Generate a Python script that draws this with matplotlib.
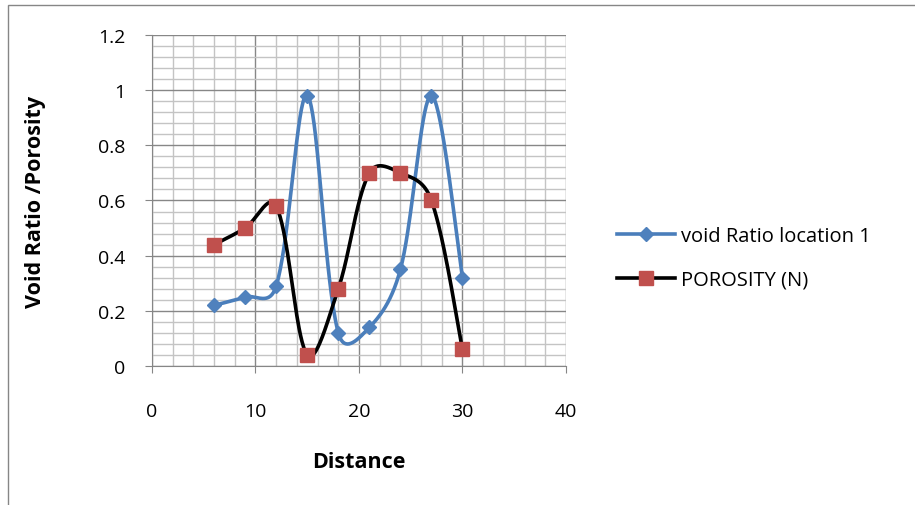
import numpy as np
import matplotlib.pyplot as plt
from matplotlib.patches import Rectangle
from matplotlib.ticker import MultipleLocator

# data
distance = [6, 9, 12, 15, 18, 21, 24, 27, 30]
void_ratio = [0.22, 0.25, 0.29, 0.98, 0.12, 0.14, 0.35, 0.98, 0.32]
porosity = [0.44, 0.50, 0.58, 0.04, 0.28, 0.70, 0.70, 0.60, 0.06]

# pixel scale of the plot area, used to shape the smoothing like Excel does
SX, SY = 414 / 40, 331 / 1.2


def smooth(xs, ys, n=40):
    # Excel-like smoothed line: bezier segments, tangents partly weighted by segment length
    p = np.column_stack([np.asarray(xs) * SX, np.asarray(ys) * SY]).astype(float)
    pts = np.vstack([p[0], p, p[-1]])
    out = []
    t = np.linspace(0, 1, n)[:, None]
    for i in range(1, len(pts) - 2):
        p0, p1, p2, p3 = pts[i - 1], pts[i], pts[i + 1], pts[i + 2]
        d01 = np.hypot(*(p1 - p0))
        d12 = np.hypot(*(p2 - p1))
        d23 = np.hypot(*(p3 - p2))
        f1 = 0.5 / 6 + 0.5 * (d12 / (d01 + d12) / 3 if d01 > 0 else 1 / 6)
        f2 = 0.5 / 6 + 0.5 * (d12 / (d12 + d23) / 3 if d23 > 0 else 1 / 6)
        c1 = p1 + (p2 - p0) * f1
        c2 = p2 - (p3 - p1) * f2
        seg = ((1 - t) ** 3) * p1 + 3 * ((1 - t) ** 2) * t * c1 + 3 * (1 - t) * t ** 2 * c2 + t ** 3 * p2
        out.append(seg)
    seg = np.vstack(out)
    return seg[:, 0] / SX, seg[:, 1] / SY


plt.rcParams['font.family'] = ['Open Sans', 'DejaVu Sans']

fig = plt.figure(figsize=(9.15, 5.06), dpi=100)
ax = fig.add_axes([152 / 915, 1 - 367 / 506, 414 / 915, 331 / 506])

# outer chart frame
fig.patches.append(Rectangle((8 / 915, -0.1), 1.2, 1 - 6 / 506 + 0.1, transform=fig.transFigure,
                             fill=False, edgecolor='#868686', lw=1))

blue = '#4A7EBB'
red = '#C0504D'

sx, sy = smooth(distance, void_ratio)
ax.plot(sx, sy, color=blue, lw=2.6, zorder=3)
ax.plot(distance, void_ratio, ls='none', marker='D', ms=7.5, color='#4F81BD', zorder=4)

px, py = smooth(distance, porosity)
ax.plot(px, py, color='black', lw=2.6, zorder=3)
ax.plot(distance, porosity, ls='none', marker='s', ms=10.5, color=red, zorder=5)

ax.set_xlim(0, 40)
ax.set_ylim(0, 1.2)
ax.xaxis.set_major_locator(MultipleLocator(10))
ax.xaxis.set_minor_locator(MultipleLocator(2))
ax.yaxis.set_minor_locator(MultipleLocator(0.04))
ax.set_yticks([0, 0.2, 0.4, 0.6, 0.8, 1.0, 1.2])
ax.set_yticklabels(['0', '0.2', '0.4', '0.6', '0.8', '1', '1.2'])
ax.grid(which='major', color='#878787', lw=1)
ax.grid(which='minor', color='#C4C4C4', lw=1)
ax.set_axisbelow(True)
for s in ['top', 'right']:
    ax.spines[s].set_visible(False)
for s in ['left', 'bottom']:
    ax.spines[s].set_color('#868686')
ax.tick_params(which='minor', length=0)
ax.tick_params(axis='x', which='major', length=5, color='#868686', pad=21, labelsize=14)
ax.tick_params(axis='y', which='major', length=5, color='#868686', pad=14, labelsize=14)

ax.set_xlabel('Distance', fontweight='bold', fontsize=15.5)
ax.set_ylabel('Void Ratio /Porosity', fontweight='bold', fontsize=15.5)
ax.xaxis.set_label_coords(0.5, (367 - 463) / 331, transform=ax.transAxes)
ax.yaxis.set_label_coords((35 - 152) / 414, 0.5, transform=ax.transAxes)
ax.xaxis.label.set_va('center')
ax.yaxis.label.set_va('center')

h1, = ax.plot([], [], color=blue, lw=2.6, marker='D', ms=7.5, mfc='#4F81BD', mec='#4F81BD')
h2, = ax.plot([], [], color='black', lw=2.6, marker='s', ms=10.5, mfc=red, mec=red)
fig.legend([h1, h2], ['void Ratio location 1', 'POROSITY (N)'], loc='center left',
           bbox_to_anchor=(0.654, 0.488), frameon=False, fontsize=14.5, handlelength=2.9,
           handletextpad=0.3, labelspacing=1.15)

fig.savefig('out.png', dpi=100)
